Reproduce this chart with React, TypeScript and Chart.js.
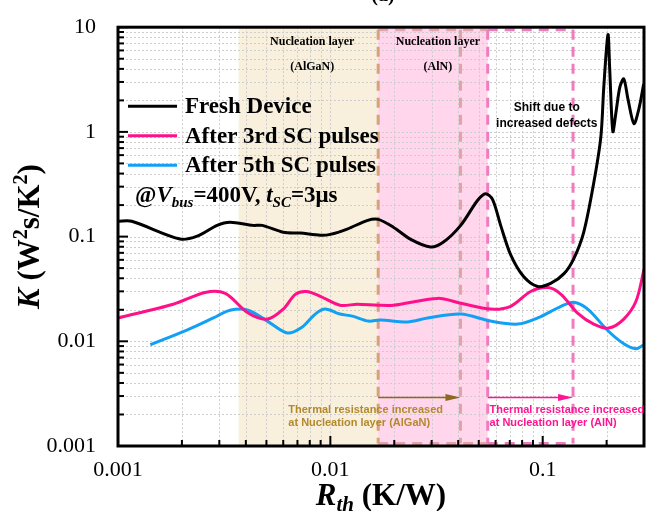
import React, { useEffect, useRef } from "react";
import { Chart, registerables } from "chart.js";

Chart.register(...registerables);

// ---------------- data ----------------
const seriesNames = ["Fresh Device", "After 3rd SC pulses", "After 5th SC pulses"];
const seriesColors = ["#000000", "#ff1089", "#12a0f4"];

const freshRth = [0.001, 0.00116, 0.00196, 0.00236, 0.00293, 0.00337, 0.00433, 0.00478, 0.006, 0.00721, 0.00897, 0.01, 0.012, 0.015, 0.0168, 0.0198, 0.0238, 0.0296, 0.0341, 0.0411, 0.0493, 0.0538, 0.0581, 0.0634, 0.0707, 0.0813, 0.0946, 0.109, 0.126, 0.14, 0.156, 0.174, 0.188, 0.194, 0.203, 0.207, 0.214, 0.221, 0.231, 0.241, 0.252, 0.269, 0.284, 0.299];
const freshK = [0.14, 0.14, 0.0947, 0.101, 0.128, 0.137, 0.128, 0.128, 0.11, 0.108, 0.103, 0.105, 0.118, 0.143, 0.146, 0.123, 0.0947, 0.0796, 0.0887, 0.128, 0.221, 0.257, 0.226, 0.128, 0.0669, 0.0415, 0.0334, 0.0357, 0.0443, 0.0614, 0.11, 0.327, 0.908, 2.69, 8.5, 3.8, 1.01, 1.5, 2.69, 3.2, 2.07, 1.2, 1.67, 2.87];

const after3Rth = [0.001, 0.00182, 0.00257, 0.0032, 0.0041, 0.00505, 0.006, 0.00684, 0.00771, 0.00897, 0.0111, 0.0134, 0.0168, 0.0198, 0.032, 0.0411, 0.0569, 0.0707, 0.0877, 0.106, 0.122, 0.146, 0.174, 0.205, 0.241, 0.275, 0.3];
const after3K = [0.0167, 0.0226, 0.0293, 0.0287, 0.0186, 0.0163, 0.0203, 0.0281, 0.0299, 0.0269, 0.0221, 0.0226, 0.0221, 0.0221, 0.0257, 0.0231, 0.0203, 0.0216, 0.0299, 0.0326, 0.0281, 0.0186, 0.0146, 0.0134, 0.0163, 0.0241, 0.0483];

const after5Rth = [0.00142, 0.00211, 0.00281, 0.00337, 0.0041, 0.00505, 0.00627, 0.00738, 0.00849, 0.00946, 0.0111, 0.0127, 0.0151, 0.0172, 0.0231, 0.0287, 0.0411, 0.0569, 0.0762, 0.0946, 0.122, 0.14, 0.163, 0.203, 0.241, 0.275, 0.3];
const after5K = [0.00927, 0.0128, 0.0167, 0.0198, 0.0198, 0.0156, 0.012, 0.0137, 0.0182, 0.0203, 0.0182, 0.0174, 0.0156, 0.016, 0.0153, 0.0167, 0.0182, 0.0156, 0.0146, 0.0167, 0.0216, 0.0236, 0.0203, 0.0126, 0.00946, 0.00849, 0.00927];

const xMajorTicks = [0.001, 0.01, 0.1];
const xTickLabels = ["0.001", "0.01", "0.1"];
const yMajorTicks = [0.001, 0.01, 0.1, 1, 10];
const yTickLabels = ["0.001", "0.01", "0.1", "1", "10"];
const tickMultipliers = [1, 2, 3, 4, 5, 6, 7, 8, 9];
const xRange = [0.001, 0.3];
const yRange = [0.001, 10];

// regions along Rth (K/W)
const regionAlGaN = [0.0037, 0.0168];
const regionAlN = [0.0168, 0.0551];
const markerAlGaNEnd = 0.041;
const regionShift = [0.0551, 0.139];

// ---------------- helpers ----------------
const SERIF = '"Liberation Serif", "Times New Roman", serif';
const SANS = '"Liberation Sans", Arial, sans-serif';

const buildTicks = (majors: number[], max: number) => {
  const out: number[] = [];
  majors.forEach((m) => tickMultipliers.forEach((k) => {
    const v = +(m * k).toPrecision(6);
    if (v <= max * 1.0001) out.push(v);
  }));
  return out;
};
const xTickValues = buildTicks(xMajorTicks, xRange[1]);
const yTickValues = buildTicks(yMajorTicks, yRange[1]);
const isMajor = (v: number, majors: number[]) => majors.findIndex((m) => Math.abs(v / m - 1) < 1e-6);

type Part = { t: string; font: string; dy?: number };
const richWidth = (ctx: CanvasRenderingContext2D, parts: Part[]) => {
  let w = 0;
  parts.forEach((p) => { ctx.font = p.font; w += ctx.measureText(p.t).width; });
  return w;
};
const drawRich = (ctx: CanvasRenderingContext2D, parts: Part[], x: number, y: number, center: boolean) => {
  let cx = center ? x - richWidth(ctx, parts) / 2 : x;
  ctx.textAlign = "left";
  ctx.textBaseline = "alphabetic";
  parts.forEach((p) => {
    ctx.font = p.font;
    ctx.fillText(p.t, cx, y + (p.dy || 0));
    cx += ctx.measureText(p.t).width;
  });
};

const arrow = (ctx: CanvasRenderingContext2D, x0: number, x1: number, y: number, color: string) => {
  ctx.strokeStyle = color;
  ctx.fillStyle = color;
  ctx.lineWidth = 1.5;
  ctx.setLineDash([]);
  ctx.beginPath();
  ctx.moveTo(x0, y);
  ctx.lineTo(x1 - 12, y);
  ctx.stroke();
  ctx.beginPath();
  ctx.moveTo(x1, y);
  ctx.lineTo(x1 - 15, y - 3.5);
  ctx.lineTo(x1 - 15, y + 3.5);
  ctx.closePath();
  ctx.fill();
};

const decor = {
  id: "decor",
  beforeDatasetsDraw(chart: any) {
    const { ctx, chartArea: a, scales } = chart;
    const x = scales.x, y = scales.y;
    ctx.save();
    const band = (r: number[], color: string) => {
      const p0 = x.getPixelForValue(r[0]);
      const p1 = x.getPixelForValue(r[1]);
      ctx.fillStyle = color;
      ctx.fillRect(p0, a.top, p1 - p0, a.bottom - a.top);
    };
    band(regionAlGaN, "#f8efdd");
    band(regionAlN, "#ffd6ec");

    // grid
    ctx.strokeStyle = "#cdcdcd";
    ctx.lineWidth = 1;
    ctx.setLineDash([2, 2]);
    xTickValues.forEach((v) => {
      const px = Math.round(x.getPixelForValue(v)) + 0.5;
      ctx.beginPath(); ctx.moveTo(px, a.top); ctx.lineTo(px, a.bottom); ctx.stroke();
    });
    yTickValues.forEach((v) => {
      const py = Math.round(y.getPixelForValue(v)) + 0.5;
      ctx.beginPath(); ctx.moveTo(a.left, py); ctx.lineTo(a.right, py); ctx.stroke();
    });

    // dashed boxes
    const t = a.top + 2.5, b = a.bottom - 2.5;
    ctx.lineWidth = 3;
    ctx.setLineDash([10, 7]);
    const vline = (v: number, color: string) => {
      const px = x.getPixelForValue(v);
      ctx.strokeStyle = color;
      ctx.beginPath(); ctx.moveTo(px, t); ctx.lineTo(px, b); ctx.stroke();
    };
    const hlines = (r: number[], color: string) => {
      const p0 = x.getPixelForValue(r[0]), p1 = x.getPixelForValue(r[1]);
      ctx.strokeStyle = color;
      ctx.beginPath(); ctx.moveTo(p0, t); ctx.lineTo(p1, t); ctx.stroke();
      ctx.beginPath(); ctx.moveTo(p0, b); ctx.lineTo(p1, b); ctx.stroke();
    };
    hlines(regionAlN, "#e2a4aa");
    vline(markerAlGaNEnd, "#dfa2a6");
    vline(regionAlN[0], "#d9a07c");
    hlines(regionShift, "#f07cc0");
    vline(regionShift[0], "#f07cc0");
    vline(regionShift[1], "#f07cc0");
    ctx.restore();
  },
  afterDatasetsDraw(chart: any) {
    const { ctx, chartArea: a, scales } = chart;
    const x = scales.x, y = scales.y;
    ctx.save();
    ctx.setLineDash([]);

    // ticks (inward)
    ctx.strokeStyle = "#000";
    ctx.lineWidth = 2;
    xTickValues.forEach((v) => {
      const px = x.getPixelForValue(v);
      const len = isMajor(v, xMajorTicks) >= 0 ? 10 : 6;
      ctx.beginPath(); ctx.moveTo(px, a.bottom); ctx.lineTo(px, a.bottom - len); ctx.stroke();
    });
    yTickValues.forEach((v) => {
      const py = y.getPixelForValue(v);
      const len = isMajor(v, yMajorTicks) >= 0 ? 10 : 6;
      ctx.beginPath(); ctx.moveTo(a.left, py); ctx.lineTo(a.left + len, py); ctx.stroke();
    });
    // frame
    ctx.lineWidth = 3;
    ctx.strokeRect(a.left, a.top, a.right - a.left, a.bottom - a.top);

    // arrows
    const ay = y.getPixelForValue(0.0029);
    arrow(ctx, x.getPixelForValue(regionAlN[0]), x.getPixelForValue(markerAlGaNEnd), ay, "#8a6a1f");
    arrow(ctx, x.getPixelForValue(regionShift[0]), x.getPixelForValue(regionShift[1]), ay, "#ff1493");

    // annotation texts
    ctx.textBaseline = "middle";
    ctx.textAlign = "left";
    ctx.font = `bold 11px ${SANS}`;
    ctx.fillStyle = "#b38a2b";
    ctx.fillText("Thermal resistance increased", x.getPixelForValue(0.00634), y.getPixelForValue(0.00219));
    ctx.fillText("at Nucleation layer (AlGaN)", x.getPixelForValue(0.00634), y.getPixelForValue(0.00165));
    ctx.fillStyle = "#ff1493";
    ctx.fillText("Thermal resistance increased", x.getPixelForValue(0.0562), y.getPixelForValue(0.00219));
    ctx.fillText("at Nucleation layer (AlN)", x.getPixelForValue(0.0562), y.getPixelForValue(0.00165));

    ctx.textAlign = "center";
    ctx.fillStyle = "#000";
    ctx.font = `bold 12px ${SERIF}`;
    ctx.fillText("Nucleation layer", x.getPixelForValue(0.00822), y.getPixelForValue(7.18));
    ctx.fillText("(AlGaN)", x.getPixelForValue(0.00822), y.getPixelForValue(4.17));
    ctx.fillText("Nucleation layer", x.getPixelForValue(0.0321), y.getPixelForValue(7.18));
    ctx.fillText("(AlN)", x.getPixelForValue(0.0321), y.getPixelForValue(4.17));

    ctx.font = `bold 12px ${SANS}`;
    ctx.fillText("Shift due to", x.getPixelForValue(0.1045), y.getPixelForValue(1.69));
    ctx.fillText("increased defects", x.getPixelForValue(0.1045), y.getPixelForValue(1.19));

    // legend
    chart.data.datasets.forEach((ds: any, i: number) => {
      const ly = a.top + 79 + i * 29.5;
      ctx.strokeStyle = ds.borderColor;
      ctx.lineWidth = 3;
      ctx.beginPath(); ctx.moveTo(a.left + 10, ly); ctx.lineTo(a.left + 59, ly); ctx.stroke();
      ctx.fillStyle = "#000";
      ctx.textAlign = "left";
      ctx.textBaseline = "alphabetic";
      ctx.font = `bold 23px ${SERIF}`;
      ctx.fillText(ds.label, a.left + 67, ly + 7);
    });

    ctx.fillStyle = "#000";
    const B = `bold 23px ${SERIF}`, BI = `italic bold 23px ${SERIF}`, SI = `italic bold 15px ${SERIF}`;
    drawRich(ctx, [
      { t: "@", font: B }, { t: "V", font: BI }, { t: "bus", font: SI, dy: 5 },
      { t: "=400V, ", font: B }, { t: "t", font: BI }, { t: "SC", font: SI, dy: 5 },
      { t: "=3\u03bcs", font: B },
    ], a.left + 17, a.top + 175, false);

    // axis titles
    const T = `bold 31px ${SERIF}`, TI = `italic bold 31px ${SERIF}`;
    drawRich(ctx, [
      { t: "R", font: TI }, { t: "th", font: `italic bold 21px ${SERIF}`, dy: 6 }, { t: " (K/W)", font: T },
    ], (a.left + a.right) / 2, 505, true);

    ctx.save();
    ctx.translate(39, (a.top + a.bottom) / 2);
    ctx.rotate(-Math.PI / 2);
    const S = `bold 20px ${SERIF}`;
    drawRich(ctx, [
      { t: "K", font: TI }, { t: " (W", font: T }, { t: "2", font: S, dy: -12 },
      { t: "s/K", font: T }, { t: "2", font: S, dy: -12 }, { t: ")", font: T },
    ], 0, 0, true);
    ctx.restore();

    // partially visible panel label
    ctx.font = `bold 20px ${SERIF}`;
    ctx.textAlign = "center";
    ctx.textBaseline = "alphabetic";
    ctx.fillText("(a)", 383, 1);
    ctx.restore();
  },
};

export default function App() {
  const ref = useRef<HTMLCanvasElement>(null);
  useEffect(() => {
    const canvas = ref.current;
    if (!canvas) return;
    const mk = (xs: number[], ys: number[]) => xs.map((v, i) => ({ x: v, y: ys[i] }));
    const chart = new Chart(canvas, {
      type: "line",
      data: {
        datasets: [
          { label: seriesNames[0], data: mk(freshRth, freshK), borderColor: seriesColors[0], borderWidth: 3, pointRadius: 0, tension: 0.3, fill: false },
          { label: seriesNames[1], data: mk(after3Rth, after3K), borderColor: seriesColors[1], borderWidth: 3, pointRadius: 0, tension: 0.3, fill: false },
          { label: seriesNames[2], data: mk(after5Rth, after5K), borderColor: seriesColors[2], borderWidth: 3, pointRadius: 0, tension: 0.3, fill: false },
        ],
      },
      options: {
        responsive: false,
        animation: false,
        devicePixelRatio: 1,
        layout: { padding: { top: 23, right: 10, bottom: 0, left: 0 } },
        plugins: { legend: { display: false }, tooltip: { enabled: false }, title: { display: false } },
        scales: {
          x: {
            type: "logarithmic",
            min: xRange[0],
            max: xRange[1],
            afterBuildTicks: (s: any) => { s.ticks = xTickValues.map((v) => ({ value: v })); },
            afterFit: (s: any) => { s.height = 65; },
            grid: { display: false },
            border: { display: false },
            ticks: {
              autoSkip: false, maxRotation: 0, minRotation: 0, padding: 3, color: "#000",
              font: { family: SERIF, size: 22 },
              callback: (v: any) => { const i = isMajor(Number(v), xMajorTicks); return i >= 0 ? xTickLabels[i] : ""; },
            },
          },
          y: {
            type: "logarithmic",
            min: yRange[0],
            max: yRange[1],
            afterBuildTicks: (s: any) => { s.ticks = yTickValues.map((v) => ({ value: v })); },
            afterFit: (s: any) => { s.width = 118; },
            grid: { display: false },
            border: { display: false },
            ticks: {
              autoSkip: false, padding: 14, color: "#000",
              font: { family: SERIF, size: 22 },
              callback: (v: any) => { const i = isMajor(Number(v), yMajorTicks); return i >= 0 ? yTickLabels[i] : ""; },
            },
          },
        },
      },
      plugins: [decor],
    } as any);
    return () => chart.destroy();
  }, []);
  return (
    <div style={{ position: "fixed", left: 0, top: 0, width: 654, height: 511, background: "#fff" }}>
      <canvas ref={ref} width={654} height={511} style={{ display: "block", width: 654, height: 511 }} />
    </div>
  );
}
